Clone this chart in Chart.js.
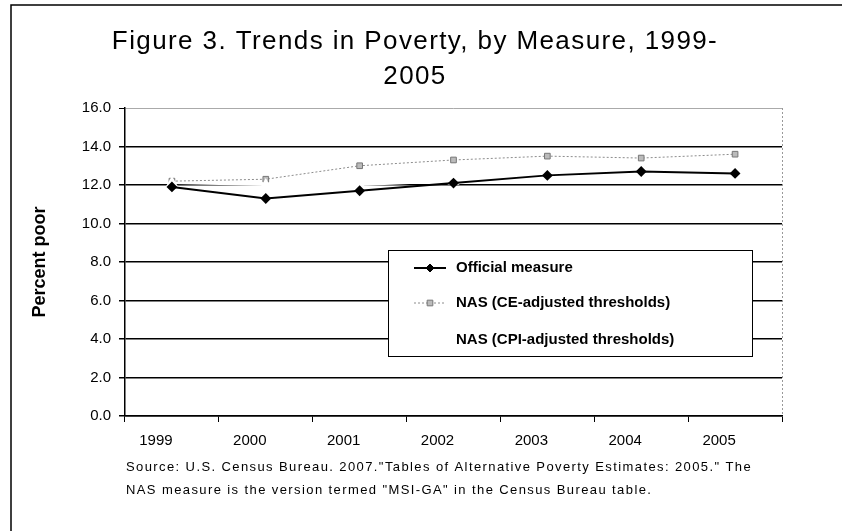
<!DOCTYPE html>
<html>
<head>
<meta charset="utf-8">
<script src="https://cdn.jsdelivr.net/npm/chart.js@4"></script>
<style>
  html, body { margin: 0; padding: 0; background: #fff; }
  #wrap { width: 842px; height: 531px; position: relative; }
</style>
</head>
<body>
<div id="wrap"><canvas id="povertyChart" width="842" height="531"></canvas></div>
<script>
// Data
const years = ['1999', '2000', '2001', '2002', '2003', '2004', '2005'];
const officialMeasure = [11.9, 11.3, 11.7, 12.1, 12.5, 12.7, 12.6];
const nasCE = [12.2, 12.3, 13.0, 13.3, 13.5, 13.4, 13.6];
const nasCPI = [12.1, 12.0, 12.0, 12.2, 12.4, 12.7, 12.6];
const yTicks = [0, 2, 4, 6, 8, 10, 12, 14, 16];

const titleLines = ['Figure 3. Trends in Poverty, by Measure, 1999-', '2005'];
const sourceLines = [
    'Source: U.S. Census Bureau. 2007."Tables of Alternative Poverty Estimates: 2005." The',
    'NAS measure is the version termed "MSI-GA" in the Census Bureau table.'
];

const FONT = '"Liberation Sans", Arial, sans-serif';

// Frame, title, legend box and source note (Excel-style figure)
const figurePlugin = {
    id: 'figure',
    beforeDraw(chart) {
        const ctx = chart.ctx;
        ctx.save();
        ctx.strokeStyle = '#000';
        ctx.lineWidth = 1.5;
        ctx.beginPath();
        ctx.moveTo(11, 531);
        ctx.lineTo(11, 5);
        ctx.lineTo(842, 5);
        ctx.stroke();
        ctx.restore();
    },
    afterDraw(chart) {
        const ctx = chart.ctx;
        const area = chart.chartArea;
        ctx.save();

        // dotted right edge of plot area
        ctx.strokeStyle = '#999';
        ctx.lineWidth = 1;
        ctx.setLineDash([2, 2]);
        ctx.beginPath();
        ctx.moveTo(area.right + 0.5, area.top);
        ctx.lineTo(area.right + 0.5, area.bottom);
        ctx.stroke();
        ctx.setLineDash([]);

        // title
        ctx.fillStyle = '#000';
        ctx.textAlign = 'center';
        ctx.textBaseline = 'middle';
        ctx.font = '26px ' + FONT;
        if ('letterSpacing' in ctx) ctx.letterSpacing = '1.4px';
        ctx.fillText(titleLines[0], 415, 42);
        ctx.fillText(titleLines[1], 415, 77);
        if ('letterSpacing' in ctx) ctx.letterSpacing = '0px';

        // legend box
        const lx = 388, ly = 250, lw = 364, lh = 106;
        ctx.fillStyle = '#fff';
        ctx.fillRect(lx, ly, lw, lh);
        ctx.strokeStyle = '#000';
        ctx.lineWidth = 1;
        ctx.strokeRect(lx + 0.5, ly + 0.5, lw, lh);

        const rows = [268, 303, 340];
        chart.data.datasets.forEach((ds, i) => {
            const y = rows[i];
            ctx.strokeStyle = ds.borderColor;
            ctx.lineWidth = ds.borderWidth;
            ctx.setLineDash(ds.borderDash || []);
            ctx.beginPath();
            ctx.moveTo(414, y);
            ctx.lineTo(446, y);
            ctx.stroke();
            ctx.setLineDash([]);
            if (ds.legendMarker) {
                ctx.fillStyle = ds.pointBackgroundColor;
                ctx.strokeStyle = ds.pointBorderColor;
                ctx.lineWidth = 1;
                Chart.helpers.drawPoint(ctx, {
                    pointStyle: ds.pointStyle,
                    radius: ds.pointRadius,
                    borderWidth: 1
                }, 430, y);
            }
            ctx.fillStyle = '#000';
            ctx.textAlign = 'left';
            ctx.textBaseline = 'middle';
            ctx.font = 'bold 15px ' + FONT;
            ctx.fillText(ds.label, 456, y);
        });

        // source note
        ctx.fillStyle = '#000';
        ctx.font = '13px ' + FONT;
        ctx.textAlign = 'left';
        if ('letterSpacing' in ctx) ctx.letterSpacing = '1.4px';
        ctx.fillText(sourceLines[0], 126, 467);
        ctx.fillText(sourceLines[1], 126, 490);
        ctx.restore();
    }
};

const ctx = document.getElementById('povertyChart').getContext('2d');
new Chart(ctx, {
    type: 'line',
    data: {
        labels: years,
        datasets: [{
            label: 'Official measure',
            data: officialMeasure,
            borderColor: '#000',
            backgroundColor: '#000',
            borderWidth: 2,
            pointStyle: 'rectRot',
            pointRadius: 4,
            pointBorderColor: '#000',
            pointBackgroundColor: '#000',
            legendMarker: true,
            order: 0
        }, {
            label: 'NAS (CE-adjusted thresholds)',
            data: nasCE,
            borderColor: '#8c8c8c',
            backgroundColor: '#b0b0b0',
            borderWidth: 1,
            borderDash: [2, 2],
            pointStyle: 'rect',
            pointRadius: 4,
            pointBorderColor: '#777',
            pointBackgroundColor: '#bbb',
            legendMarker: true,
            order: 2
        }, {
            label: 'NAS (CPI-adjusted thresholds)',
            data: nasCPI,
            borderColor: '#fff',
            backgroundColor: '#fff',
            borderWidth: 2,
            pointStyle: 'triangle',
            pointRadius: 5,
            pointBorderColor: '#fff',
            pointBackgroundColor: '#fff',
            legendMarker: false,
            order: 1
        }]
    },
    options: {
        responsive: false,
        animation: false,
        devicePixelRatio: 1,
        layout: { padding: { top: 108, right: 60, bottom: 80, left: 0 } },
        plugins: {
            legend: { display: false },
            title: { display: false },
            tooltip: { enabled: false }
        },
        scales: {
            x: {
                offset: true,
                grid: { offset: true, drawOnChartArea: false, drawTicks: true, tickLength: 6, color: '#000', tickColor: '#000' },
                border: { color: '#000', width: 1.5 },
                ticks: { color: '#000', font: { family: FONT, size: 15 }, padding: 10, labelOffset: -16, maxRotation: 0 },
                afterFit(scale) { scale.height = 35; }
            },
            y: {
                min: 0,
                max: 16,
                afterBuildTicks(scale) { scale.ticks = yTicks.map(v => ({ value: v })); },
                grid: {
                    color: c => (c.tick && c.tick.value === 16) ? '#aaa' : '#000',
                    lineWidth: c => (c.tick && c.tick.value === 16) ? 1 : 1.5,
                    tickLength: 6,
                    tickColor: '#000'
                },
                border: { color: '#000', width: 1.5 },
                ticks: {
                    color: '#000',
                    font: { family: FONT, size: 15 },
                    padding: 8,
                    callback: v => Number(v).toFixed(1)
                },
                title: {
                    display: true,
                    text: 'Percent poor',
                    color: '#000',
                    font: { family: FONT, size: 18, weight: 'bold' },
                    padding: { top: 29, bottom: 0 }
                },
                afterFit(scale) { scale.width = 125; }
            }
        }
    },
    plugins: [figurePlugin]
});
</script>
</body>
</html>
